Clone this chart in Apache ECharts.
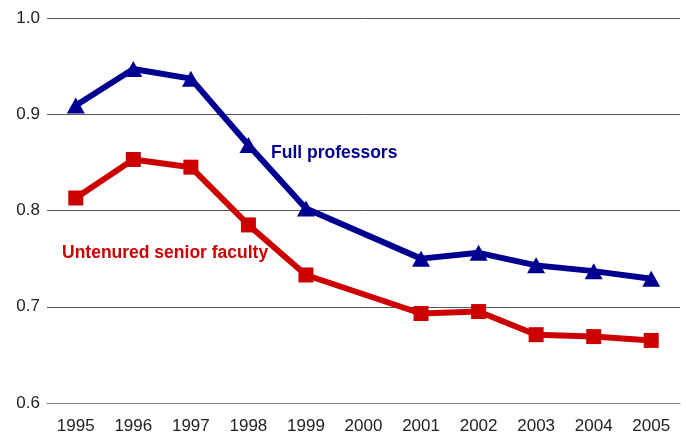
<!DOCTYPE html>
<html>
<head>
<meta charset="utf-8">
<script src="https://cdn.jsdelivr.net/npm/echarts@6/dist/echarts.min.js"></script>
<style>
  html, body { margin: 0; padding: 0; background: #fff; }
  #chart { width: 686px; height: 435px; }
</style>
</head>
<body>
<div id="chart"></div>
<script>
var myChart = echarts.init(document.getElementById('chart'));

// years on the x axis (2000 has no data point)
var years = ['1995', '1996', '1997', '1998', '1999', '2000', '2001', '2002', '2003', '2004', '2005'];
var fullProfessors = [0.909, 0.947, 0.937, 0.868, 0.802, null, 0.750, 0.756, 0.743, 0.737, 0.729];
var untenuredSenior = [0.813, 0.853, 0.845, 0.785, 0.733, null, 0.693, 0.695, 0.671, 0.669, 0.665];

var blue = '#000090';
var red = '#cc0000';
var font = 'Liberation Sans, Arial, sans-serif';

option = {
    animation: false,
    grid: { left: 47, right: 6, top: 18, bottom: 32 },
    xAxis: {
        type: 'category',
        data: years,
        boundaryGap: true,
        axisLine: { lineStyle: { color: '#808080', width: 1 } },
        axisTick: { alignWithLabel: true, length: 5, lineStyle: { color: '#222' } },
        axisLabel: { color: '#222', fontSize: 17, fontFamily: font, margin: 15 }
    },
    yAxis: {
        type: 'value',
        min: 0.6,
        max: 1.0,
        interval: 0.1,
        axisLine: { show: false },
        axisTick: { show: false },
        axisLabel: {
            color: '#222', fontSize: 17, fontFamily: font, margin: 7,
            formatter: function (v) { return v.toFixed(1); }
        },
        splitLine: { lineStyle: { color: '#555', width: 1 } }
    },
    graphic: [
        {
            type: 'text', left: 271, top: 144,
            style: { text: 'Full professors', fill: blue, font: 'bold 17.5px ' + font }
        },
        {
            type: 'text', left: 62, top: 244,
            style: { text: 'Untenured senior faculty', fill: red, font: 'bold 17.5px ' + font }
        }
    ],
    series: [
        {
            name: 'Full professors',
            type: 'line',
            data: fullProfessors,
            connectNulls: true,
            symbol: 'triangle',
            symbolSize: [18, 16],
            lineStyle: { color: blue, width: 6 },
            itemStyle: { color: blue },
            z: 3
        },
        {
            name: 'Untenured senior faculty',
            type: 'line',
            data: untenuredSenior,
            connectNulls: true,
            symbol: 'rect',
            symbolSize: 15,
            lineStyle: { color: red, width: 6 },
            itemStyle: { color: red },
            z: 2
        }
    ]
};

myChart.setOption(option);
</script>
</body>
</html>
